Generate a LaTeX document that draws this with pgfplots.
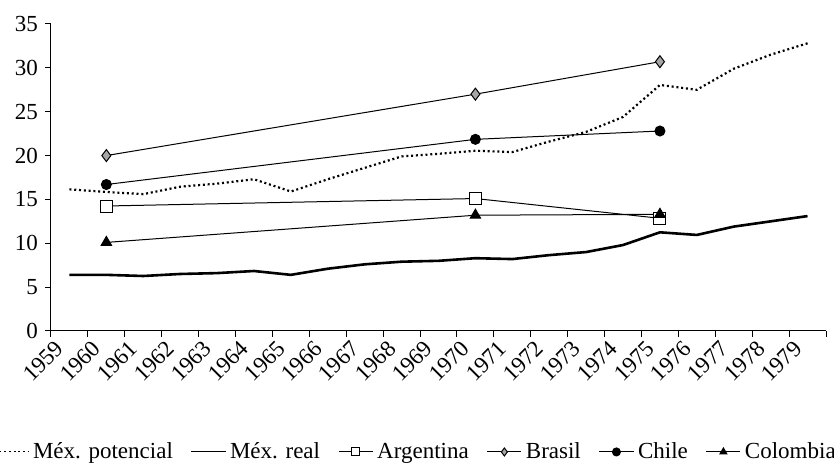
\documentclass[border=0pt]{standalone}
\usepackage{fontspec}
\setmainfont{Liberation Serif}
\usepackage{pgfplots}
\pgfplotsset{compat=1.18}

% años 1959..1979 en posiciones 0..20
\pgfplotstableread{
x  pot   real
0  16.15 6.40
1  15.85 6.40
2  15.60 6.27
3  16.45 6.50
4  16.80 6.60
5  17.30 6.84
6  15.90 6.40
7  17.30 7.10
8  18.60 7.60
9  19.90 7.90
10 20.20 8.00
11 20.55 8.30
12 20.40 8.20
13 21.60 8.65
14 22.70 9.00
15 24.40 9.80
16 28.05 11.25
17 27.50 10.95
18 29.90 11.90
19 31.50 12.50
20 32.80 13.10
}\mexico

\begin{document}
\begin{tikzpicture}
\begin{axis}[
    scale only axis,
    width=387.5pt, height=153.5pt,
    xmin=-0.5, xmax=20.5,
    ymin=0, ymax=35,
    axis lines=left,
    axis line style={-, line width=0.5pt},
    xtick={0,...,20},
    xticklabels={1959,1960,1961,1962,1963,1964,1965,1966,1967,1968,1969,1970,1971,1972,1973,1974,1975,1976,1977,1978,1979},
    major x tick style={draw=none},
    minor xtick={-0.5,0.5,...,20.5},
    minor tick length=3pt,
    ytick={0,5,...,35},
    major tick length=3pt,
    tick align=outside,
    tick style={black, line width=0.5pt},
    /pgf/number format/assume math mode=true,
    every tick label/.append style={font=\fontsize{11.5}{13}\selectfont},
    x tick label style={anchor=east, inner sep=1pt, xshift=-4pt, rotate=45},
    xticklabel shift=3pt,
    legend style={at={(0.472,-0.394)}, anchor=center, draw=none,
        font=\fontsize{11.5}{13}\selectfont,
        /tikz/every even column/.append style={column sep=7pt}},
    every legend image post/.append style={line width=0.5pt, mark size=2pt},
    legend columns=6,
    legend cell align=left,
    clip=false,
]
\addplot[black, line width=1.1pt, dash pattern=on 1pt off 1.4pt] table[x=x, y=pot] {\mexico};
\addlegendentry{Méx. potencial}
\addplot[black, line width=1.3pt] table[x=x, y=real] {\mexico};
\addlegendentry{Méx. real}
\addplot[black, line width=0.5pt, mark=square*, mark size=3pt, mark options={fill=white, line width=0.5pt}]
    coordinates {(1,14.25) (11,15.1) (16,12.85)};
\addlegendentry{Argentina}
\addplot[black, line width=0.5pt, mark=diamond*, mark size=3pt, mark options={fill=gray!70, line width=0.5pt}]
    coordinates {(1,20.0) (11,27.0) (16,30.7)};
\addlegendentry{Brasil}
\addplot[black, line width=0.5pt, mark=*, mark size=2.5pt, mark options={fill=black}]
    coordinates {(1,16.7) (11,21.85) (16,22.8)};
\addlegendentry{Chile}
\addplot[black, line width=0.5pt, mark=triangle*, mark size=3pt, mark options={fill=black}]
    coordinates {(1,10.1) (11,13.2) (16,13.3)};
\addlegendentry{Colombia}
\end{axis}
\pgfresetboundingbox
\path ([xshift=-25.5pt, yshift=12pt]current axis.north west)
    rectangle ([xshift=4pt, yshift=-66.5pt]current axis.south east);
\end{tikzpicture}
\end{document}
